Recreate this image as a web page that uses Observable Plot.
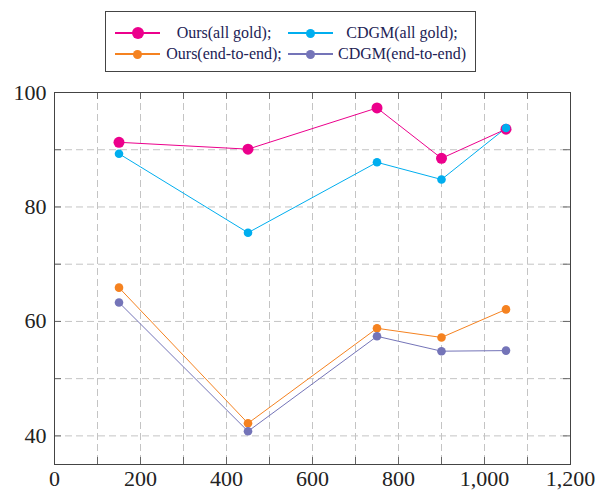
<!DOCTYPE html>
<html>
<head>
<meta charset="utf-8">
<script src="https://cdn.jsdelivr.net/npm/d3@7"></script>
<script src="https://cdn.jsdelivr.net/npm/@observablehq/plot@0.6"></script>
<style>
  html, body { margin: 0; padding: 0; background: #fff; }
  #wrap { width: 600px; }
  #legend { position: relative; width: 600px; height: 80px; }
  #box { position: absolute; left: 105px; top: 11px; width: 371px; height: 61px; border: 1px solid #444; box-sizing: border-box; background: #fff; }
  .ln { position: absolute; height: 1.2px; width: 45px; }
  .dot { position: absolute; border-radius: 50%; }
  .lbl { position: absolute; white-space: nowrap; transform: translate(-50%, -50%); font-family: 'Liberation Serif', serif; font-size: 16px; color: #222255; }
  #chart svg text { font-family: 'Liberation Serif', serif; }
</style>
</head>
<body>
<div id="wrap">
  <div id="legend"><div id="box"></div></div>
  <div id="chart"></div>
</div>
<script>
const xs = [150, 450, 750, 900, 1050];
const oursGold = [91.3, 90.1, 97.3, 88.5, 93.6];
const cdgmGold = [89.3, 75.5, 87.8, 84.8, 93.8];
const oursE2E = [65.9, 42.2, 58.8, 57.2, 62.1];
const cdgmE2E = [63.3, 40.8, 57.4, 54.8, 54.9];

const seriesNames = ["Ours(all gold);", "CDGM(all gold);", "Ours(end-to-end);", "CDGM(end-to-end)"];
const seriesValues = [oursGold, cdgmGold, oursE2E, cdgmE2E];
const seriesColors = ["#ec008c", "#00aeef", "#f58220", "#7474b8"];
const seriesR = [5.5, 4.3, 4.3, 4.3];

const xTicks = [0, 200, 400, 600, 800, 1000, 1200];
const yTicks = [40, 60, 80, 100];
const xGrid = d3.range(0, 1201, 100);
const yGrid = d3.range(40, 101, 10);

const rows = [];
seriesNames.forEach((name, i) => {
  xs.forEach((x, j) => rows.push({series: name, x, y: seriesValues[i][j], idx: i}));
});

// Legend
const box = document.getElementById("box");
const legendPos = [
  {row: 21, line: 9, text: 118},
  {row: 21, line: 182, text: 296},
  {row: 42, line: 9, text: 118},
  {row: 42, line: 182, text: 296}
];
seriesNames.forEach((name, i) => {
  const p = legendPos[i];
  const ln = document.createElement("div");
  ln.className = "ln";
  ln.style.left = p.line + "px";
  ln.style.top = (p.row - 0.6) + "px";
  ln.style.background = seriesColors[i];
  box.appendChild(ln);
  const r = i === 0 ? 6 : 4.5;
  const dot = document.createElement("div");
  dot.className = "dot";
  dot.style.width = dot.style.height = (2 * r) + "px";
  dot.style.left = (p.line + 22.5 - r) + "px";
  dot.style.top = (p.row - r) + "px";
  dot.style.background = seriesColors[i];
  box.appendChild(dot);
  const t = document.createElement("div");
  t.className = "lbl";
  t.style.left = p.text + "px";
  t.style.top = p.row + "px";
  t.textContent = name;
  box.appendChild(t);
});

const W = 600, H = 412, mL = 54, mR = 30, mT = 12, mB = 28;
const innerW = W - mL - mR, innerH = H - mT - mB;
const tk = 7;

const chart = Plot.plot({
  width: W,
  height: H,
  marginLeft: mL,
  marginRight: mR,
  marginTop: mT,
  marginBottom: mB,
  style: {fontFamily: "'Liberation Serif', serif", background: "#fff", color: "#222"},
  x: {domain: [0, 1200]},
  y: {domain: [35, 100]},
  color: {domain: seriesNames, range: seriesColors},
  marks: [
    Plot.gridX(xGrid, {stroke: "#c4c4c4", strokeOpacity: 1, strokeDasharray: "7,4"}),
    Plot.gridY(yGrid.filter(d => d < 100), {stroke: "#c4c4c4", strokeOpacity: 1, strokeDasharray: "7,4"}),
    Plot.tickX(xGrid, {x: d => d, insetTop: innerH - tk, stroke: "#666"}),
    Plot.tickX(xGrid, {x: d => d, insetBottom: innerH - tk, stroke: "#666"}),
    Plot.tickY(yGrid, {y: d => d, insetRight: innerW - tk, stroke: "#666"}),
    Plot.tickY(yGrid, {y: d => d, insetLeft: innerW - tk, stroke: "#666"}),
    Plot.frame({stroke: "#444"}),
    Plot.axisX({ticks: xTicks, tickSize: 0, tickPadding: 6, fontSize: 22, tickFormat: d3.format(","), label: null}),
    Plot.axisY({ticks: yTicks, tickSize: 0, tickPadding: 8, fontSize: 22, label: null}),
    ...seriesNames.map((name, i) => Plot.line(rows.filter(d => d.series === name), {x: "x", y: "y", stroke: seriesColors[i], strokeWidth: 1})),
    ...seriesNames.map((name, i) => Plot.dot(rows.filter(d => d.series === name), {x: "x", y: "y", fill: seriesColors[i], r: seriesR[i], stroke: "none"}))
  ]
});
document.getElementById("chart").appendChild(chart);
</script>
</body>
</html>
